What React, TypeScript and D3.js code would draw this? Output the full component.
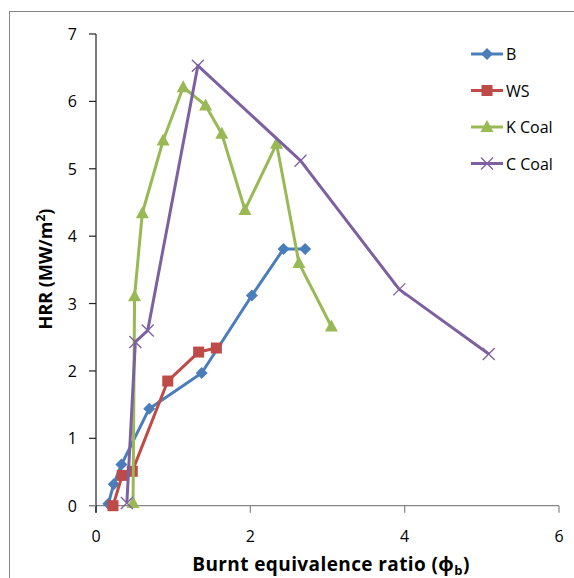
import { useEffect, useRef } from 'react';
import * as d3 from 'd3';

// series values
const bX = [0.16, 0.23, 0.33, 0.69, 1.37, 2.02, 2.43, 2.71];
const bY = [0.03, 0.32, 0.61, 1.44, 1.97, 3.12, 3.81, 3.81];

const wsX = [0.22, 0.34, 0.47, 0.93, 1.33, 1.56];
const wsY = [0.0, 0.45, 0.51, 1.85, 2.28, 2.34];

const kX = [0.48, 0.5, 0.6, 0.87, 1.13, 1.42, 1.63, 1.93, 2.34, 2.63, 3.05];
const kY = [0.04, 3.11, 4.34, 5.42, 6.21, 5.94, 5.52, 4.39, 5.37, 3.6, 2.66];

const cX = [0.4, 0.51, 0.67, 1.32, 2.65, 3.93, 5.09];
const cY = [0.04, 2.43, 2.6, 6.53, 5.12, 3.21, 2.25];

const seriesNames = ['B', 'WS', 'K Coal', 'C Coal'];
const xTicks = [0, 2, 4, 6];
const yTicks = [0, 1, 2, 3, 4, 5, 6, 7];

export default function App() {
    const svgRef = useRef<SVGSVGElement>(null);

    useEffect(() => {
        if (!svgRef.current) return;
        const svg = d3.select(svgRef.current);
        svg.selectAll('*').remove();

        const font = '"Open Sans", "Noto Sans", sans-serif';
        const axisGray = '#868686';

        const xScale = d3.scaleLinear().domain([0, 6]).range([96, 559]);
        const yScale = d3.scaleLinear().domain([0, 7]).range([505.7, 34]);

        // outer chart frame (runs off the picture right and bottom)
        svg.append('rect')
            .attr('x', 9.5).attr('y', 11.5)
            .attr('width', 700).attr('height', 700)
            .attr('fill', 'none')
            .attr('stroke', axisGray)
            .attr('stroke-width', 1);

        // --- Axes ---
        // x axis (gray)
        svg.append('line')
            .attr('x1', xScale(0) - 7).attr('x2', xScale(6))
            .attr('y1', yScale(0)).attr('y2', yScale(0))
            .attr('stroke', axisGray).attr('stroke-width', 1.2);
        xTicks.forEach(t => {
            svg.append('line')
                .attr('x1', xScale(t)).attr('x2', xScale(t))
                .attr('y1', yScale(0)).attr('y2', yScale(0) + 7)
                .attr('stroke', t === 0 ? '#222' : axisGray).attr('stroke-width', 1.2);
            svg.append('text')
                .attr('x', xScale(t)).attr('y', yScale(0) + 36)
                .attr('text-anchor', 'middle')
                .attr('font-family', font).attr('font-size', 16)
                .attr('fill', '#000')
                .text(t);
        });

        // y axis (dark)
        svg.append('line')
            .attr('x1', xScale(0)).attr('x2', xScale(0))
            .attr('y1', yScale(7)).attr('y2', yScale(0) + 7)
            .attr('stroke', '#222').attr('stroke-width', 1.2);
        yTicks.forEach(t => {
            svg.append('line')
                .attr('x1', xScale(0) - 7).attr('x2', xScale(0))
                .attr('y1', yScale(t)).attr('y2', yScale(t))
                .attr('stroke', t === 0 ? axisGray : '#222').attr('stroke-width', 1.2);
            svg.append('text')
                .attr('x', xScale(0) - 19).attr('y', yScale(t) + 6)
                .attr('text-anchor', 'end')
                .attr('font-family', font).attr('font-size', 16)
                .attr('fill', '#000')
                .text(t);
        });

        // axis titles
        const xt = svg.append('text')
            .attr('x', 331).attr('y', 571)
            .attr('text-anchor', 'middle')
            .attr('font-family', font).attr('font-size', 19).attr('font-weight', 'bold')
            .attr('letter-spacing', 0.4);
        xt.append('tspan').text('Burnt equivalence ratio (ϕ');
        xt.append('tspan').attr('font-size', 13).attr('dy', 4).text('b');
        xt.append('tspan').attr('dy', -4).text(')');

        const yt = svg.append('text')
            .attr('transform', 'translate(52, 269) rotate(-90)')
            .attr('text-anchor', 'middle')
            .attr('font-family', font).attr('font-size', 18).attr('font-weight', 'bold');
        yt.append('tspan').text('HRR (MW/m');
        yt.append('tspan').attr('font-size', 12).attr('dy', -7).text('2');
        yt.append('tspan').attr('dy', 7).text(')');

        // --- Series ---
        const line = d3.line<[number, number]>()
            .x(d => xScale(d[0]))
            .y(d => yScale(d[1]));

        const series = [
            { name: seriesNames[0], xs: bX, ys: bY, color: '#4A7EBB', marker: 'diamond' },
            { name: seriesNames[1], xs: wsX, ys: wsY, color: '#BE4B48', marker: 'square' },
            { name: seriesNames[2], xs: kX, ys: kY, color: '#98B954', marker: 'triangle' },
            { name: seriesNames[3], xs: cX, ys: cY, color: '#7D60A0', marker: 'x' },
        ];

        const drawMarker = (g: any, kind: string, cx: number, cy: number, color: string) => {
            if (kind === 'diamond') {
                g.append('path')
                    .attr('d', `M${cx},${cy - 6}L${cx + 6},${cy}L${cx},${cy + 6}L${cx - 6},${cy}Z`)
                    .attr('fill', color);
            } else if (kind === 'square') {
                g.append('rect')
                    .attr('x', cx - 5.5).attr('y', cy - 5.5)
                    .attr('width', 11).attr('height', 11)
                    .attr('fill', color);
            } else if (kind === 'triangle') {
                g.append('path')
                    .attr('d', `M${cx},${cy - 7}L${cx + 6.5},${cy + 5}L${cx - 6.5},${cy + 5}Z`)
                    .attr('fill', color);
            } else {
                g.append('path')
                    .attr('d', `M${cx - 6},${cy - 6}L${cx + 6},${cy + 6}M${cx - 6},${cy + 6}L${cx + 6},${cy - 6}`)
                    .attr('stroke', color).attr('stroke-width', 1.3).attr('fill', 'none');
            }
        };

        series.forEach(s => {
            const pts: [number, number][] = s.xs.map((x, i) => [x, s.ys[i]]);
            const g = svg.append('g');
            g.append('path')
                .datum(pts)
                .attr('d', line)
                .attr('fill', 'none')
                .attr('stroke', s.color)
                .attr('stroke-width', 3)
                .attr('stroke-linejoin', 'round');
            pts.forEach(p => drawMarker(g, s.marker, xScale(p[0]), yScale(p[1]), s.color));
        });

        // --- Legend ---
        series.forEach((s, i) => {
            const ly = 54 + i * 36.5;
            const g = svg.append('g');
            g.append('line')
                .attr('x1', 471).attr('x2', 503)
                .attr('y1', ly).attr('y2', ly)
                .attr('stroke', s.color).attr('stroke-width', 3);
            drawMarker(g, s.marker, 487, ly, s.color);
            g.append('text')
                .attr('x', 506).attr('y', ly + 6)
                .attr('font-family', font).attr('font-size', 16)
                .attr('fill', '#000')
                .text(s.name);
        });
    }, []);

    return (
        <svg
            ref={svgRef}
            width={574}
            height={578}
            style={{ position: 'absolute', left: 0, top: 0, background: '#fff' }}
        />
    );
}
